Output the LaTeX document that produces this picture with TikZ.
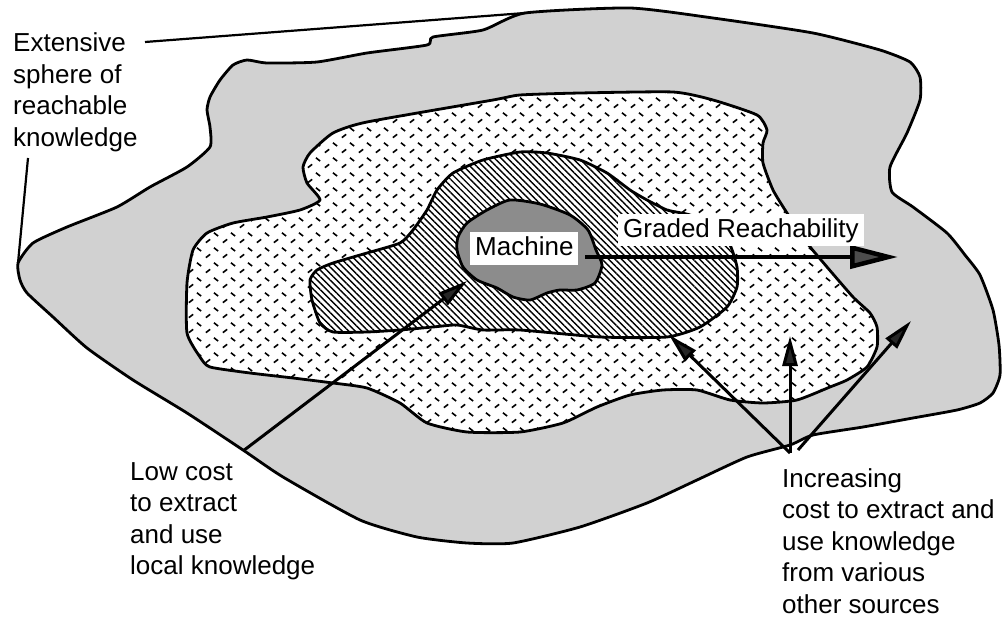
\documentclass[tikz,border=0pt]{standalone}
\usepackage{fontspec}
\setmainfont{Liberation Sans}
\usetikzlibrary{arrows.meta,patterns,patterns.meta}

\pgfdeclarepattern{
  name=dashmarks,
  type=uncolored,
  bottom left={\pgfpoint{0pt}{0pt}},
  top right={\pgfpoint{17pt}{15pt}},
  tile size={\pgfpoint{17pt}{15pt}},
  code={
    \pgfsetlinewidth{1.7pt}
    \pgfpathmoveto{\pgfpoint{2pt}{2.5pt}}
    \pgfpathlineto{\pgfpoint{6.5pt}{6pt}}
    \pgfpathmoveto{\pgfpoint{10.5pt}{13pt}}
    \pgfpathlineto{\pgfpoint{15pt}{9.5pt}}
    \pgfusepath{stroke}
  }
}

\begin{document}
\begin{tikzpicture}[x=1pt,y=-1pt,
  blobline/.style={draw=black,line width=2.8pt,line join=round},
  outerblob/.style={blobline,fill=black!18},
  midblob/.style={blobline,preaction={fill=white},pattern=dashmarks,pattern color=black},
  innerblob/.style={blobline,preaction={fill=white},pattern={Lines[angle=-45,distance=4.6pt,line width=1.4pt]},pattern color=black},
  machblob/.style={blobline,fill=black!45},
  label/.style={font=\fontsize{26}{31.5}\selectfont,align=left,inner sep=0pt,anchor=base west},
  boxlabel/.style={font=\fontsize{26}{31.5}\selectfont,fill=white,inner xsep=5pt,inner ysep=4pt,anchor=base west},
  leader/.style={line width=2.2pt},
  costarrow/.style={line width=3pt,-{Triangle[length=30pt,width=15pt,fill=black!85]}},
  gradearrow/.style={line width=4.5pt,-{Triangle[length=48pt,width=23pt,fill=black!70]}}
]
\useasboundingbox (0,0) rectangle (1003,620);

% outer sphere
\draw[outerblob] plot[smooth cycle,tension=0.35] coordinates {
 (525,13) (630,8) (713,18) (813,33) (880,50) (910,62) (920,77) (920,100)
 (907,133) (890,167) (892,192) (913,207) (947,233) (965,255) (980,275)
 (993,310) (999,345) (1000,375) (993,393) (980,403) (957,410) (913,418)
 (863,427) (813,435) (790,445) (747,457) (697,480) (647,503) (580,527)
 (513,543) (467,543) (417,537) (360,520) (283,477) (243,450) (187,413)
 (133,380) (87,348) (53,317) (27,293) (20,280) (18,263) (33,243) (67,227)
 (117,207) (150,187) (187,167) (210,147) (210,127) (207,110) (210,97)
 (220,80) (233,65) (247,60) (267,63) (317,62) (367,53) (427,45) (433,37)
 (483,30)};

% middle zone
\draw[midblob] plot[smooth cycle,tension=0.35] coordinates {
 (493,100) (520,95) (580,93) (673,92) (713,100) (757,115) (767,130)
 (763,143) (763,163) (773,190) (787,213) (807,243) (827,267) (853,297)
 (870,313) (877,327) (877,347) (867,367) (847,380) (830,387) (797,400)
 (763,403) (730,400) (697,390) (663,390) (630,395) (597,407) (563,423)
 (520,432) (467,432) (427,423) (400,403) (367,388) (333,383) (293,378)
 (250,373) (210,367) (200,357) (187,333) (187,283) (193,250) (207,233)
 (233,223) (267,217) (300,210) (320,200) (307,183) (303,167) (310,153)
 (333,133) (367,122)};

% inner zone
\draw[innerblob] plot[smooth cycle,tension=0.35] coordinates {
 (520,152) (547,153) (580,160) (607,173) (630,190) (647,200) (667,210)
 (690,215) (715,228) (730,245) (737,267) (737,287) (727,307) (700,327)
 (667,337) (600,337) (520,330) (483,330) (457,325) (433,327) (400,330)
 (367,332) (333,332) (320,323) (312,300) (310,280) (317,270) (333,263)
 (367,253) (400,243) (413,230) (427,210) (437,190) (453,173) (483,160)};

% machine
\draw[machblob] plot[smooth cycle,tension=0.4] coordinates {
 (510,200) (540,204) (570,215) (588,230) (596,250) (602,265) (595,283)
 (577,290) (560,290) (547,293) (530,300) (513,297) (497,288) (477,280)
 (463,267) (457,250) (458,237) (467,223) (487,210)};

% labels (anchored at the baseline of the last line)
\node[label] (ext) at (13,146.5) {Extensive\\sphere of\\reachable\\knowledge};
\node[label] (low) at (130,574.5) {Low cost\\to extract\\and use\\local knowledge};
\node[label] (inc) at (782,613) {Increasing\\cost to extract and\\use knowledge\\from various\\other sources};

% named ends
\coordinate (extA) at (145,42);
\coordinate (extB) at (525,13);
\coordinate (extC) at (28,158);
\coordinate (extD) at (18,263);
\coordinate (lowS) at (243,451);
\coordinate (lowT) at (467,281);
\coordinate (apex) at (790,453);
\coordinate (apex2) at (798,450);
\coordinate (incT1) at (669,335);
\coordinate (incT2) at (790,336);
\coordinate (incT3) at (911,321);
\coordinate (gradS) at (585,257);
\coordinate (gradT) at (898,257);

% leaders
\draw[leader] (extA) -- (extB);
\draw[leader] (extC) -- (extD);

% arrows
\draw[costarrow] (lowS) -- (lowT);
\draw[costarrow] (apex) -- (incT1);
\draw[costarrow] (apex) -- (incT2);
\draw[costarrow] (apex2) -- (incT3);
\draw[gradearrow] (gradS) -- (gradT);

% boxed labels
\node[boxlabel,text depth=6pt] (mach) at (470,255) {Machine};
\node[boxlabel] (grad) at (618,237) {Graded Reachability};
\end{tikzpicture}
\end{document}
